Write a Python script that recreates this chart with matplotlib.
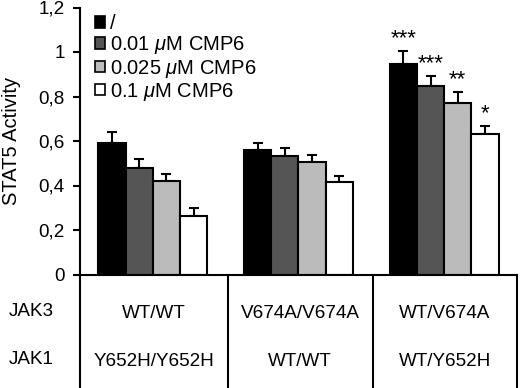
import matplotlib
matplotlib.use("Agg")
import matplotlib.pyplot as plt
from matplotlib.patches import Patch
from matplotlib.lines import Line2D
import numpy as np

plt.rcParams['font.family'] = ['Liberation Sans', 'DejaVu Sans']
plt.rcParams['mathtext.fontset'] = 'custom'
plt.rcParams['mathtext.rm'] = 'Liberation Sans'
plt.rcParams['mathtext.it'] = 'Liberation Sans:italic'

jak3_labels = ["WT/WT", "V674A/V674A", "WT/V674A"]
jak1_labels = ["Y652H/Y652H", "WT/WT", "WT/Y652H"]
series_names = ["/", "0.01 $\\mu$M CMP6", "0.025 $\\mu$M CMP6", "0.1 $\\mu$M CMP6"]
series_colors = ["#000000", "#555555", "#bbbbbb", "#ffffff"]

# values per series across the three groups
vals_0 = [0.59, 0.56, 0.945]
vals_1 = [0.48, 0.533, 0.845]
vals_2 = [0.418, 0.505, 0.773]
vals_3 = [0.265, 0.415, 0.632]
err_0 = [0.052, 0.032, 0.06]
err_1 = [0.04, 0.035, 0.048]
err_2 = [0.032, 0.032, 0.047]
err_3 = [0.035, 0.028, 0.036]
stars_3grp = ["***", "***", "**", "*"]  # significance marks for the third group

values = [vals_0, vals_1, vals_2, vals_3]
errors = [err_0, err_1, err_2, err_3]

FS = 13.6
W, H = 520, 388
fig = plt.figure(figsize=(5.2, 3.88), dpi=100)
ax_left, ax_right, ax_bot, ax_top = 80, 517, 274.5, 7.5
ax = fig.add_axes([ax_left / W, 1 - ax_bot / H, (ax_right - ax_left) / W, (ax_bot - ax_top) / H])

x = np.arange(3)
bw = 0.187
offsets = (np.arange(4) - 1.5) * bw
for i in range(4):
    ax.bar(x + offsets[i], values[i], width=bw, color=series_colors[i],
           edgecolor='black', linewidth=1.5, zorder=2)
    ax.errorbar(x + offsets[i], values[i], yerr=[np.zeros(3), errors[i]],
                fmt='none', ecolor='black', elinewidth=1.5, capsize=3.6,
                capthick=1.5, zorder=1)

for i in range(4):
    top = values[i][2] + errors[i][2]
    ax.text(x[2] + offsets[i], top + 0.03, stars_3grp[i], ha='center', va='baseline',
            fontsize=16)

ax.set_xlim(-0.5, 2.5)
ax.set_ylim(0, 1.2)
yt = [0, 0.2, 0.4, 0.6, 0.8, 1.0, 1.2]
ax.set_yticks(yt)
ax.set_yticklabels(["0", "0,2", "0,4", "0,6", "0,8", "1", "1,2"], fontsize=FS)
ax.tick_params(axis='y', direction='out', length=5, width=1.5, pad=6)
ax.set_xticks([])
for s in ['top', 'right']:
    ax.spines[s].set_visible(False)
ax.spines['left'].set_linewidth(1.5)
ax.spines['bottom'].set_linewidth(1.5)
ax.set_ylabel("STAT5 Activity", fontsize=14.5)
ax.yaxis.set_label_coords((21 - ax_left) / (ax_right - ax_left), 0.5)

handles = [Patch(facecolor=c, edgecolor='black', linewidth=1.2) for c in series_colors]
ax.legend(handles, series_names, loc='upper left', bbox_to_anchor=(0.035, 0.975),
          frameon=False, fontsize=14.5, handlelength=0.5, handleheight=0.5,
          handletextpad=0.25, labelspacing=0.06, borderaxespad=0, borderpad=0)

# table below axis
lx = [80, 227.5, 372.5, 517]
for xx in lx:
    fig.add_artist(Line2D([xx / W, xx / W], [0, 1 - ax_bot / H],
                          color='black', linewidth=1.5))
for j in range(3):
    cx = ((lx[j] + lx[j + 1]) / 2) / W
    fig.text(cx, 1 - 313 / H, jak3_labels[j], ha='center', va='center', fontsize=FS)
    fig.text(cx, 1 - 362 / H, jak1_labels[j], ha='center', va='center', fontsize=FS)
fig.text(31 / W, 1 - 311 / H, "JAK3", ha='center', va='center', fontsize=FS)
fig.text(31 / W, 1 - 360 / H, "JAK1", ha='center', va='center', fontsize=FS)

fig.savefig("out.png", dpi=100)
